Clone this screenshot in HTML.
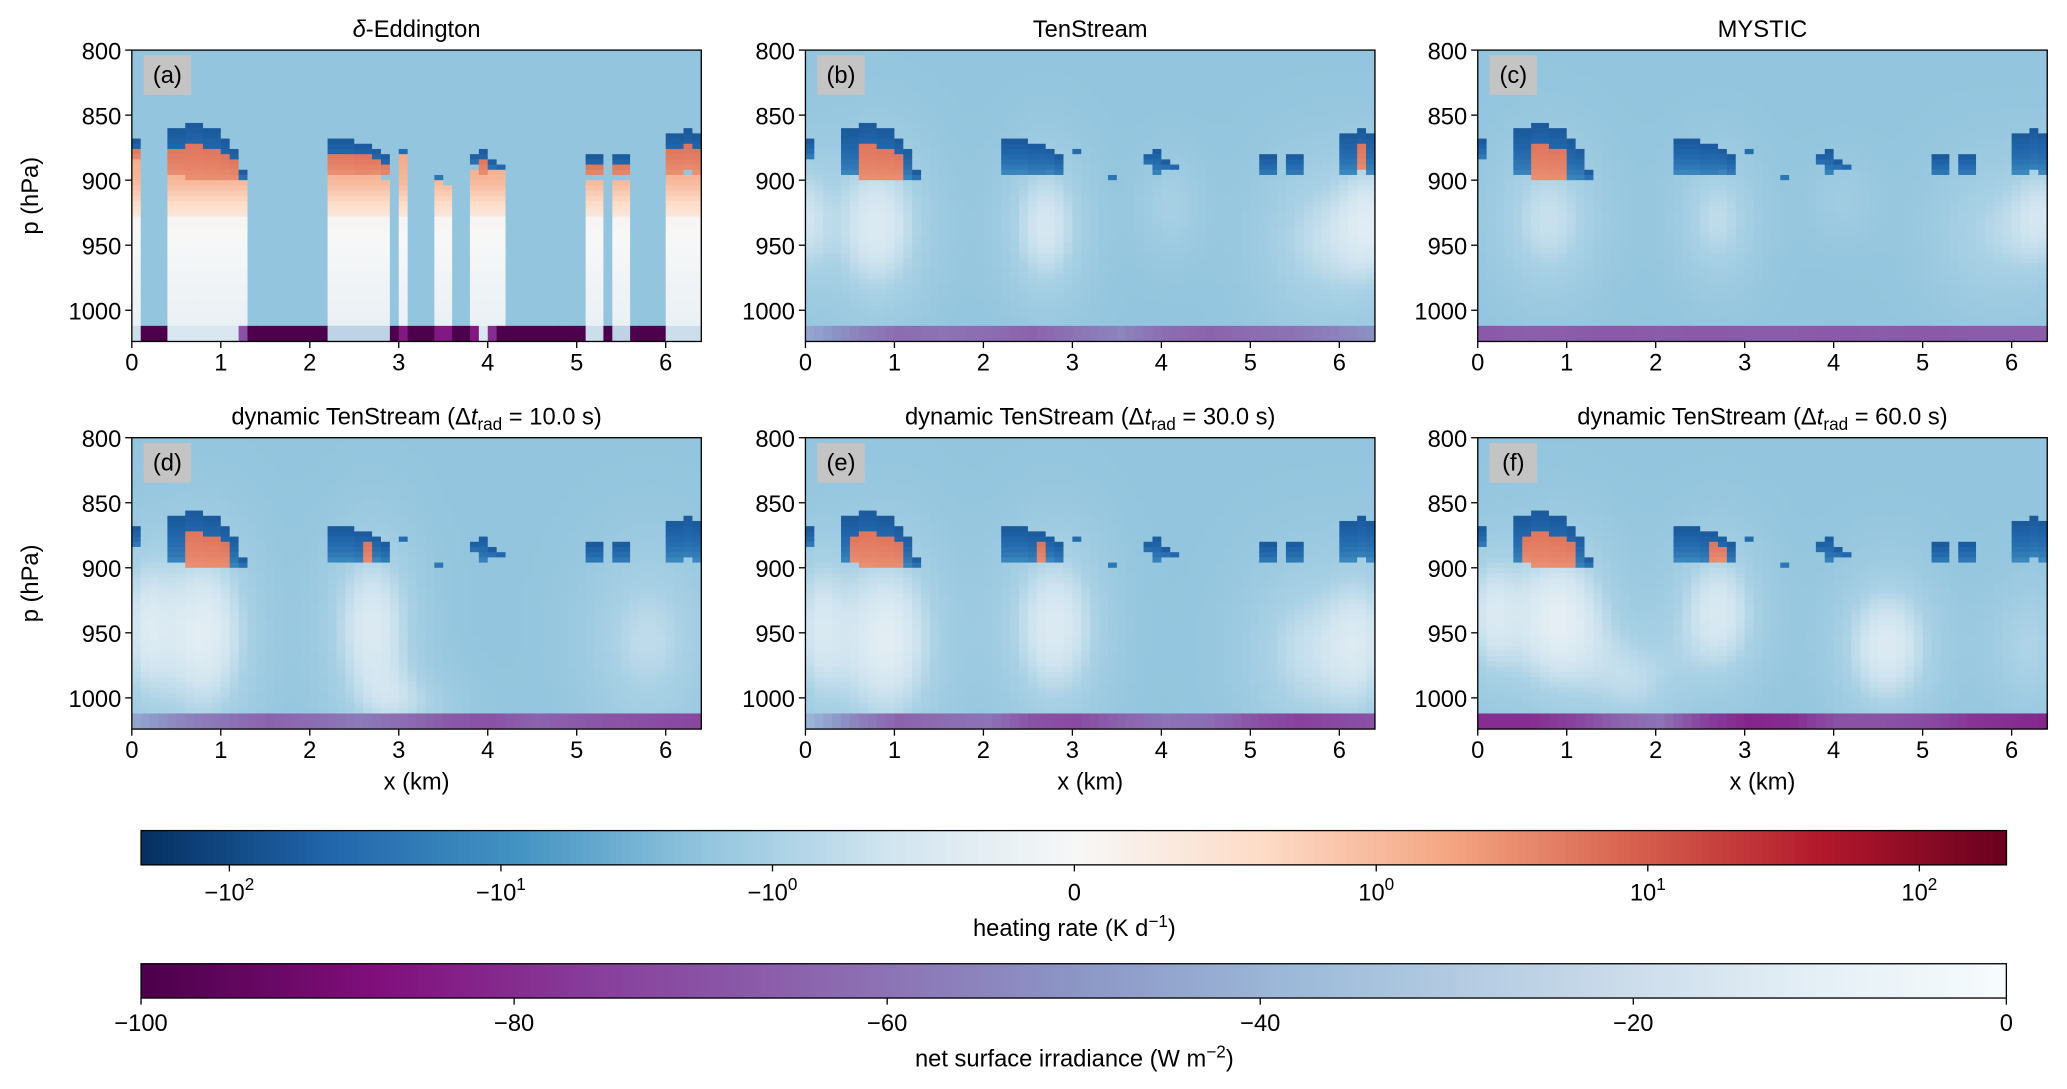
<!DOCTYPE html>
<html><head><meta charset="utf-8"><style>
html,body{margin:0;padding:0;background:#fff;}
svg{display:block;font-family:"Liberation Sans","DejaVu Sans",sans-serif;}
</style></head><body>
<svg id="fig" width="2067" height="1089" viewBox="0 0 1568 826" preserveAspectRatio="none" xmlns="http://www.w3.org/2000/svg"></svg>
<script>
// ---------- data ----------
const panelTitles = ["δ-Eddington","TenStream","MYSTIC","dynamic TenStream (Δt_rad = 10.0 s)","dynamic TenStream (Δt_rad = 30.0 s)","dynamic TenStream (Δt_rad = 60.0 s)"];
const panelLetters = ["(a)","(b)","(c)","(d)","(e)","(f)"];
const xTicks = [0,1,2,3,4,5,6];
const pTicks = [800,850,900,950,1000];
// cloud top pressure (0 = clear) and depth per 0.1 km column
const cloudTop = [870,0,0,0,862,862,855,855,860,860,868,875,893,0,0,0,0,0,0,0,0,0,870,870,870,872,872,875,880,0,875,0,0,0,895,899,0,0,880,876,885,888,0,0,0,0,0,0,0,0,0,882,882,0,880,880,0,0,0,0,865,865,862,865];
const cloudDepth = [15,0,0,0,35,35,45,45,40,40,32,25,8,0,0,0,0,0,0,0,0,0,25,25,25,25,25,20,18,0,6,0,0,0,4,3,0,0,10,20,8,5,0,0,0,0,0,0,0,0,0,16,16,0,18,18,0,0,0,0,30,30,32,30];
// columns with warm (red) cloud interior, per panel
const warmCols = [
  [0,4,5,6,7,8,9,10,11,22,23,24,25,26,27,28,39,51,52,54,55,60,61,62,63],
  [6,7,8,9,10,62],
  [6,7,8,9],
  [6,7,8,9,10,26],
  [5,6,7,8,9,10,26],
  [5,6,7,8,9,10,26,27]
];
// diffuse warm blobs (3D panels): x km, p hPa, amplitude, sx km, sp hPa
const blobX = [[],[0.8,2.7,4.1,5.8,0.0,6.4],[0.8,2.7,4.1,5.8,6.4],[0.8,2.7,5.8,3.2,0.1],[0.9,2.8,5.6,0.1,6.3],[0.9,2.7,4.6,1.8,6.2,0.1]];
const blobP = [[],[935,935,920,945,930,930],[930,930,915,940,925],[950,945,955,1005,945],[955,945,965,945,955],[940,935,960,990,960,935]];
const blobA = [[],[1.35,1.25,0.7,1.0,0.85,0.85],[1.1,1.0,0.5,0.85,0.75],[1.45,1.35,1.0,0.6,0.85],[1.45,1.35,1.0,0.85,0.85],[1.5,1.3,1.35,0.75,0.85,0.85]];
const blobSX = [[],[0.65,0.52,0.4,0.78,0.26,0.4],[0.65,0.52,0.4,0.78,0.4],[0.65,0.58,0.78,0.65,0.32],[0.72,0.65,0.78,0.32,0.45],[0.72,0.58,0.65,0.52,0.52,0.32]];
const blobSP = [[],[70,63,42,70,56,56],[63,56,35,63,49],[84,77,77,28,70],[84,77,77,70,70],[70,63,63,42,56,56]];
const bgHeat = -1.8;
// surface irradiance
const surfA = [-20,-100,-100,-100,-15,-15,-15,-15,-15,-15,-15,-15,-70,-100,-100,-100,-100,-100,-100,-100,-100,-100,-25,-25,-25,-25,-25,-25,-25,-100,-85,-100,-100,-100,-85,-85,-100,-100,-85,-15,-80,-100,-100,-100,-100,-100,-100,-100,-100,-100,-100,-20,-20,-100,-25,-25,-100,-100,-100,-100,-20,-20,-20,-20];
const surfB = [-45,-55,-62,-60,-62,-65,-60,-55,-62,-65,-62,-60,-55];
const surfC = [-68,-66,-67,-68,-67,-68,-67,-67,-68,-67,-68,-67,-67];
const surfD = [-45,-55,-60,-65,-62,-58,-62,-68,-70,-65,-68,-70,-72];
const surfE = [-40,-55,-65,-62,-60,-70,-72,-65,-60,-62,-70,-75,-72];
const surfF = [-80,-80,-75,-65,-60,-75,-82,-80,-70,-70,-72,-78,-80];
const heatCbTicks = [-100,-10,-1,0,1,10,100];
const heatCbSign = ["−","−","−","","","",""];
const heatCbExp = ["2","1","0","","0","1","2"];
const irrCbTicks = [-100,-80,-60,-40,-20,0];

// ---------- helpers ----------
const NS="http://www.w3.org/2000/svg";
const svg=document.getElementById('fig');
function el(tag,attrs,parent){const e=document.createElementNS(NS,tag);for(const k in attrs)e.setAttribute(k,attrs[k]);(parent||svg).appendChild(e);return e;}
function hex(c){return [parseInt(c.slice(1,3),16),parseInt(c.slice(3,5),16),parseInt(c.slice(5,7),16)];}
function cmap(stops,f){f=Math.max(0,Math.min(1,f));const n=stops.length-1;const i=Math.min(n-1,Math.floor(f*n));const t=f*n-i;const a=hex(stops[i]),b=hex(stops[i+1]);return `rgb(${Math.round(a[0]+(b[0]-a[0])*t)},${Math.round(a[1]+(b[1]-a[1])*t)},${Math.round(a[2]+(b[2]-a[2])*t)})`;}
const RdBu=["#053061","#2166ac","#4393c3","#92c5de","#d1e5f0","#f7f7f7","#fddbc7","#f4a582","#d6604d","#b2182b","#67001f"];
const BuPuR=["#4d004b","#810f7c","#88419d","#8c6bb1","#8c96c6","#9ebcda","#bfd3e6","#e0ecf4","#f7fcfd"];
const HALF=708, LIN=229, DEC=206;
function symT(v){const a=Math.abs(v);const t=a<=1?a*LIN:LIN+Math.log10(a)*DEC;return Math.sign(v)*t;}
function heatColor(v){return cmap(RdBu,(symT(v)+HALF)/(2*HALF));}
function irrColor(v){return cmap(BuPuR,(v+100)/100);}

const lefts=[100,611,1121], tops=[38,332], W=432, XMAX=6.4, PMIN=800, PMAX=1024, PSURF=1012;
const H=259-38;
const surfs=[null,surfB,surfC,surfD,surfE,surfF];

for(let k=0;k<6;k++){
  const L=lefts[k%3], T=tops[Math.floor(k/3)];
  const xs=x=>L+x/XMAX*W, ys=p=>T+(p-PMIN)/(PMAX-PMIN)*H;
  const g=el('g',{});
  
  
  const hm=el('g',{},g);
  
  
  const nx=cloudTop.length, dp=4;
  for(let i=0;i<nx;i++){
    const x0=i*0.1, xc=x0+0.05;
    const top=cloudTop[i], dep=cloudDepth[i], warm=warmCols[k].includes(i);
    for(let p=PMIN;p<PSURF;p+=dp){
      const pc=p+dp/2; let v=bgHeat;
      if(k===0){
        if(top && pc>top+dep) v=(pc<930? 0.3+ (930-pc)/40 : 0.05-(pc-930)/300);
      } else {
        for(let b=0;b<blobX[k].length;b++){
          v+=blobA[k][b]*Math.exp(-Math.pow((xc-blobX[k][b])/blobSX[k][b],2)-Math.pow((pc-blobP[k][b])/blobSP[k][b],2));
        }
      }
      if(top && pc>=top && pc<top+dep){
        const rel=(pc-top)/dep;
        if(warm && rel>0.35) v=3+ (1-rel)*4; else v=-12-(1-rel)*50;
      }
      const r=el('rect',{x:xs(x0),y:ys(p),width:W/XMAX*0.1+0.5,height:H/(PMAX-PMIN)*dp+0.5,fill:heatColor(v)},hm);
      
      
    }
  }
  const sg=el('g',{},g);
  
  
  if(k===0){
    for(let i=0;i<surfA.length;i++){
      const r=el('rect',{x:xs(i*0.1),y:ys(PSURF),width:W/XMAX*0.1+0.5,height:ys(PMAX)-ys(PSURF),fill:irrColor(surfA[i])},sg);
      
      
    }
  } else {
    const s=surfs[k];
    for(let i=0;i<64;i++){
      const xf=i*0.1/0.5, j=Math.min(s.length-2,Math.floor(xf)), t=xf-j;
      const v=s[j]+(s[j+1]-s[j])*t;
      const r=el('rect',{x:xs(i*0.1),y:ys(PSURF),width:W/XMAX*0.1+0.5,height:ys(PMAX)-ys(PSURF),fill:irrColor(v)},sg);
      
      
    }
  }
  const fr=el('rect',{x:L,y:T,width:W,height:H,fill:'none',stroke:'#000','stroke-width':1},g);
  
  
  xTicks.forEach(t=>{
    el('line',{x1:xs(t),x2:xs(t),y1:T+H,y2:T+H+5,stroke:'#000'},g);
    const tx=el('text',{x:xs(t),y:T+H+22,'font-size':18,'text-anchor':'middle'},g);tx.textContent=t;
    
    
  });
  pTicks.forEach(t=>{
    el('line',{x1:L-5,x2:L,y1:ys(t),y2:ys(t),stroke:'#000'},g);
    const tx=el('text',{x:L-8,y:ys(t)+7,'font-size':18,'text-anchor':'end'},g);tx.textContent=t;
    
    
  });
  const lb=el('rect',{x:L+9,y:T+4,width:36,height:30,fill:'#c4c4c4'},g);
  
  
  const lt=el('text',{x:L+27,y:T+25,'font-size':18,'text-anchor':'middle'},g);lt.textContent=panelLetters[k];
  
  
  const ti=el('text',{x:L+W/2,y:T-10,'font-size':18,'text-anchor':'middle'},g);
  
  
  const tt=panelTitles[k];
  if(tt.includes('Δt_rad')){
    const parts=tt.split('Δt_rad');
    const a=el('tspan',{},ti);a.textContent=parts[0]+'Δ';
    const b=el('tspan',{'font-style':'italic'},ti);b.textContent='t';
    const c=el('tspan',{'font-size':13,dy:4},ti);c.textContent='rad';
    const d=el('tspan',{dy:-4},ti);d.textContent=parts[1];
  } else if(tt.startsWith('δ')){
    const a=el('tspan',{'font-style':'italic'},ti);a.textContent='δ';
    const b=el('tspan',{},ti);b.textContent=tt.slice(1);
  } else ti.textContent=tt;
  if(k%3===0){
    const yl=el('text',{x:0,y:0,'font-size':18,'text-anchor':'middle',transform:`translate(29,${T+H/2}) rotate(-90)`},g);yl.textContent='p (hPa)';
    
    
  }
  if(k>=3){
    const xl=el('text',{x:L+W/2,y:T+H+46,'font-size':18,'text-anchor':'middle'},g);xl.textContent='x (km)';
    
    
  }
}

// ---------- colorbars ----------
const CB1={x:107,y:630,w:1415,h:26}, CB2={x:107,y:731,w:1415,h:26};
const cb1=el('g',{});


for(let i=0;i<283;i++){
  const f=i/283; const t=f*2*HALF-HALF;
  el('rect',{x:CB1.x+f*CB1.w,y:CB1.y,width:CB1.w/283+0.6,height:CB1.h,fill:cmap(RdBu,(t+HALF)/(2*HALF))},cb1);
}
el('rect',{x:CB1.x,y:CB1.y,width:CB1.w,height:CB1.h,fill:'none',stroke:'#000'},cb1);
const cbc=815;
heatCbTicks.forEach((v,i)=>{
  const x=cbc+symT(v);
  el('line',{x1:x,x2:x,y1:CB1.y+CB1.h,y2:CB1.y+CB1.h+5,stroke:'#000'},cb1);
  const t=el('text',{x:x,y:CB1.y+CB1.h+27,'font-size':18,'text-anchor':'middle'},cb1);
  
  
  if(v===0){t.textContent='0';}
  else{
    const a=el('tspan',{},t);a.textContent=heatCbSign[i]+'10';
    const b=el('tspan',{'font-size':13,dy:-8},t);b.textContent=heatCbExp[i];
  }
});
const h1=el('text',{x:815,y:710,'font-size':18,'text-anchor':'middle'},cb1);


h1.innerHTML='heating rate (K d<tspan font-size="13" dy="-7">−1</tspan><tspan dy="7">)</tspan>';

const cb2=el('g',{});


for(let i=0;i<283;i++){
  const f=i/283;
  el('rect',{x:CB2.x+f*CB2.w,y:CB2.y,width:CB2.w/283+0.6,height:CB2.h,fill:cmap(BuPuR,f)},cb2);
}
el('rect',{x:CB2.x,y:CB2.y,width:CB2.w,height:CB2.h,fill:'none',stroke:'#000'},cb2);
irrCbTicks.forEach(v=>{
  const x=CB2.x+(v+100)/100*CB2.w;
  el('line',{x1:x,x2:x,y1:CB2.y+CB2.h,y2:CB2.y+CB2.h+5,stroke:'#000'},cb2);
  const t=el('text',{x:x,y:CB2.y+CB2.h+25,'font-size':18,'text-anchor':'middle'},cb2);t.textContent=v===0?'0':'−'+Math.abs(v);
  
  
});
const h2=el('text',{x:815,y:809,'font-size':18,'text-anchor':'middle'},cb2);


h2.innerHTML='net surface irradiance (W m<tspan font-size="13" dy="-7">−2</tspan><tspan dy="7">)</tspan>';
</script>
</body></html>
